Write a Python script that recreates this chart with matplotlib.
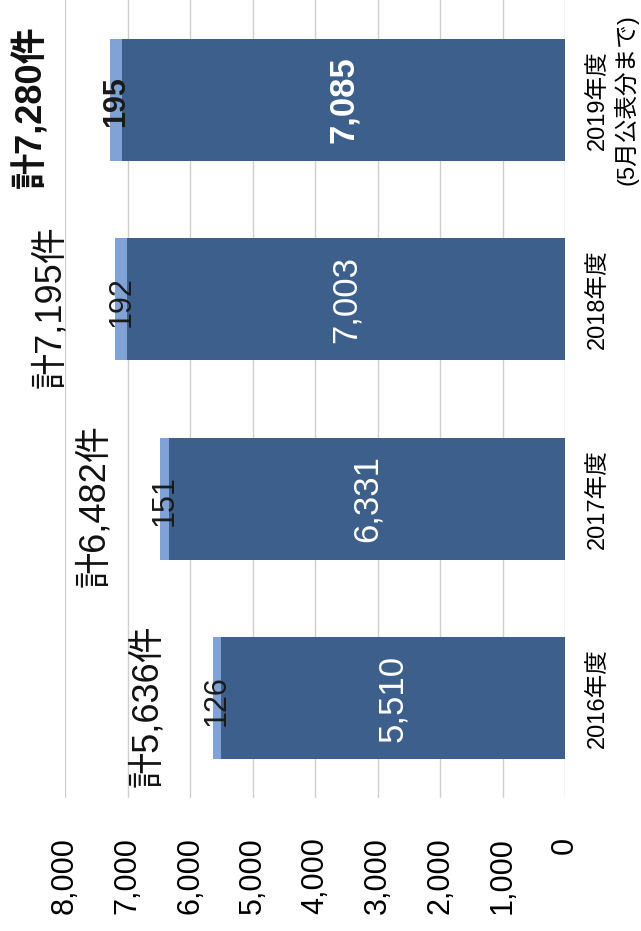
import matplotlib.pyplot as plt

plt.rcParams['font.family'] = ['Liberation Sans', 'Noto Sans CJK JP']

years = ['2016年度', '2017年度', '2018年度', '2019年度\n(5月公表分まで)']
main_counts = [5510, 6331, 7003, 7085]
extra_counts = [126, 151, 192, 195]
value_ticks = [0, 1000, 2000, 3000, 4000, 5000, 6000, 7000, 8000]

dark = '#3d5f8c'
light = '#7fa3d6'

fig = plt.figure(figsize=(6.41, 9.31), dpi=100)
ax = fig.add_axes([65 / 641, 133 / 931, 500 / 641, 798 / 931])

pos = list(range(len(years)))
totals = [m + e for m, e in zip(main_counts, extra_counts)]

ax.barh(pos, main_counts, height=0.61, color=dark, zorder=2)
ax.barh(pos, extra_counts, left=main_counts, height=0.61, color=light, zorder=2)

ax.set_xlim(8000, 0)
ax.set_ylim(-0.5, 3.5)
ax.set_xticks(value_ticks)
ax.set_xticklabels([f'{v:,}' for v in value_ticks], rotation=90, fontsize=22)
ax.tick_params(axis='x', length=0, pad=28)

ax.yaxis.tick_right()
ax.set_yticks(pos)
ax.set_yticklabels(years, rotation=90, va='center', ha='left',
                   multialignment='center', fontsize=17)
ax.tick_params(axis='y', length=0, pad=16)

ax.grid(axis='x', color='#cfcfcf', linewidth=1, zorder=0)
for s in ax.spines.values():
    s.set_visible(False)

last = len(years) - 1
for i in pos:
    w = 'bold' if i == last else 'normal'
    # main value inside the dark part
    ax.text(main_counts[i] / 2, i, f'{main_counts[i]:,}', rotation=90,
            ha='center', va='center', color='white', fontsize=25,
            fontweight=w, zorder=3)
    # small value on the light part
    ax.text(main_counts[i] + extra_counts[i] / 2, i - 0.01, f'{extra_counts[i]:,}',
            rotation=90, ha='center', va='center', color='#1a1a1a',
            fontsize=22, fontweight=w, zorder=3)
    # total left of the bar
    off = -79 if i == last else -65
    ax.annotate(f'計{totals[i]:,}件', xy=(totals[i], i), xytext=(off, -7),
                textcoords='offset pixels', rotation=90, ha='center',
                va='center', fontsize=26, fontweight=w, color='#111111',
                annotation_clip=False)

fig.savefig('out.png', dpi=100)
